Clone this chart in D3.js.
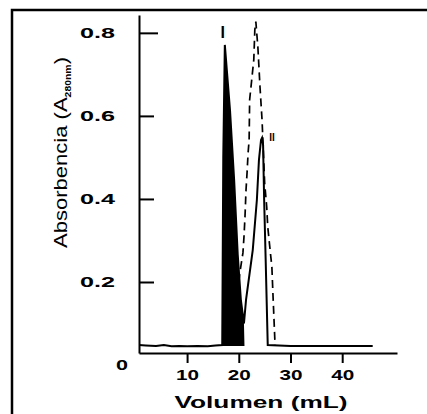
<!DOCTYPE html>
<html>
<head>
<meta charset="utf-8">
<script src="https://cdn.jsdelivr.net/npm/d3@7"></script>
<style>
  body { margin: 0; background: #fff; }
  text { font-family: "Liberation Sans", Arial, sans-serif; fill: #000; }
</style>
</head>
<body>
<div id="chart"></div>
<script>
// ---------------------- data ---------------------
var xTicks = [10, 20, 30, 40];
var yTicks = [0, 0.2, 0.4, 0.6, 0.8];
var yTickLabels = ["0", "0.2", "0.4", "0.6", "0.8"];

// solid trace (volume mL, absorbance)
var traceVol = [0.7, 2, 4, 5.5, 7, 8.5, 10, 12, 14, 15.5, 16.8, 17.0, 17.3, 18.3, 19.1, 19.8, 20.4, 21.0,
                21.4, 22.7, 23.5, 23.9, 24.3, 24.5, 24.7, 24.9, 25.2, 25.6, 30, 45.9];
var traceAbs = [0.048, 0.047, 0.046, 0.048, 0.045, 0.046, 0.045, 0.046, 0.045, 0.047, 0.048, 0.50, 0.771, 0.614, 0.446, 0.265, 0.157, 0.10,
                0.157, 0.277, 0.398, 0.494, 0.542, 0.547, 0.530, 0.400, 0.253, 0.048, 0.046, 0.046];

// shaded fraction I
var fracStart = 16.8, fracEnd = 21.1, fracBase = 0.046;

// dashed trace
var dashVol = [20.0, 20.2, 20.8, 21.0, 21.2, 21.4, 21.6, 21.8, 22.0, 22.1, 22.9, 23.1, 23.3,
               23.7, 24.1, 24.5, 25.0, 25.4, 25.6, 26.0, 26.4, 26.6, 27.0, 27.0];
var dashAbs = [0.20, 0.222, 0.270, 0.308, 0.357, 0.422, 0.463, 0.511, 0.542, 0.639, 0.735, 0.807, 0.827,
               0.764, 0.670, 0.590, 0.439, 0.381, 0.333, 0.284, 0.236, 0.173, 0.053, 0.046];

var peakNames = ["I", "II"];
var peakVol = [16.9, 25.9];
var peakAbs = [0.787, 0.540];

// ---------------------- svg + frame ---------------------
var svg = d3.select("#chart")
     .append("svg")
     .attr("width", 427)
     .attr("height", 414);

svg.append("path")
     .attr("d", "M12,414V10H427")
     .attr("fill", "none")
     .attr("stroke", "#000")
     .attr("stroke-width", 2.5);

var x = d3.scaleLinear().domain([0.7, 50.6]).range([139, 397]);
var y = d3.scaleLinear().domain([0.029, 0.843]).range([353, 15]);

// ---------------------- axes ---------------------
var xAxis = svg.append("g")
     .attr("transform", "translate(0,353)")
     .call(d3.axisBottom(x).tickValues(xTicks).tickSizeInner(10).tickSizeOuter(0).tickPadding(7));

var yAxis = svg.append("g")
     .attr("transform", "translate(139,0)")
     .call(d3.axisLeft(y).tickValues(yTicks).tickFormat(function (d, i) { return yTickLabels[i]; })
          .tickSizeInner(-15).tickSizeOuter(0).tickPadding(24));

svg.selectAll(".domain, .tick line").attr("stroke", "#000").attr("stroke-width", 2);

xAxis.selectAll("text")
     .style("font-size", "14px")
     .style("font-weight", "bold")
     .attr("textLength", 23)
     .attr("lengthAdjust", "spacingAndGlyphs");

yAxis.selectAll("text")
     .style("font-size", "14px")
     .style("font-weight", "bold")
     .attr("textLength", function (d) { return d === 0 ? 12 : 35; })
     .attr("lengthAdjust", "spacingAndGlyphs");

// zero: no tick mark, label sits further right
yAxis.selectAll(".tick").filter(function (d) { return d === 0; }).select("line").remove();
yAxis.selectAll(".tick").filter(function (d) { return d === 0; }).select("text").attr("x", -11);
yAxis.selectAll(".tick").filter(function (d) { return d === 0.8; }).select("line").attr("x2", 19);

// ---------------------- traces ---------------------
var trace = traceVol.map(function (v, i) { return [v, traceAbs[i]]; });
var dashed = dashVol.map(function (v, i) { return [v, dashAbs[i]]; });
var frac = trace.filter(function (d) { return d[0] >= fracStart && d[0] <= fracEnd; });
frac.push([fracEnd, fracBase]);

svg.append("path")
     .datum(frac)
     .attr("fill", "#000")
     .attr("d", d3.area().x(function (d) { return x(d[0]); }).y0(y(fracBase)).y1(function (d) { return y(d[1]); }));

svg.append("path")
     .datum(trace)
     .attr("fill", "none")
     .attr("stroke", "#000")
     .attr("stroke-width", 2)
     .attr("d", d3.line().x(function (d) { return x(d[0]); }).y(function (d) { return y(d[1]); }));

svg.append("path")
     .datum(dashed)
     .attr("fill", "none")
     .attr("stroke", "#000")
     .attr("stroke-width", 1.7)
     .attr("stroke-dasharray", "8,5")
     .attr("d", d3.line().x(function (d) { return x(d[0]); }).y(function (d) { return y(d[1]); }));

// peak names
svg.selectAll(".peak")
     .data(peakNames)
     .enter()
     .append("text")
     .attr("class", "peak")
     .attr("x", function (d, i) { return x(peakVol[i]); })
     .attr("y", function (d, i) { return y(peakAbs[i]); })
     .style("font-size", function (d, i) { return i === 0 ? "16px" : "10px"; })
     .style("font-weight", "bold")
     .attr("text-anchor", function (d, i) { return i === 0 ? "middle" : "start"; })
     .text(function (d) { return d; });

// ---------------------- axis titles ---------------------
svg.append("text")
     .attr("x", 261)
     .attr("y", 408)
     .attr("text-anchor", "middle")
     .style("font-size", "16px")
     .style("font-weight", "bold")
     .attr("textLength", 173)
     .attr("lengthAdjust", "spacingAndGlyphs")
     .text("Volumen (mL)");

var yTitle = svg.append("text")
     .attr("transform", "translate(67,248) rotate(-90) scale(1.16,1)")
     .attr("x", 0)
     .attr("y", 0)
     .style("font-size", "19px");
yTitle.append("tspan").text("Absorbencia (A");
yTitle.append("tspan").attr("dy", 4).style("font-size", "9px").style("font-weight", "bold").text("280nm");
yTitle.append("tspan").attr("dy", -4).text(")");
</script>
</body>
</html>
